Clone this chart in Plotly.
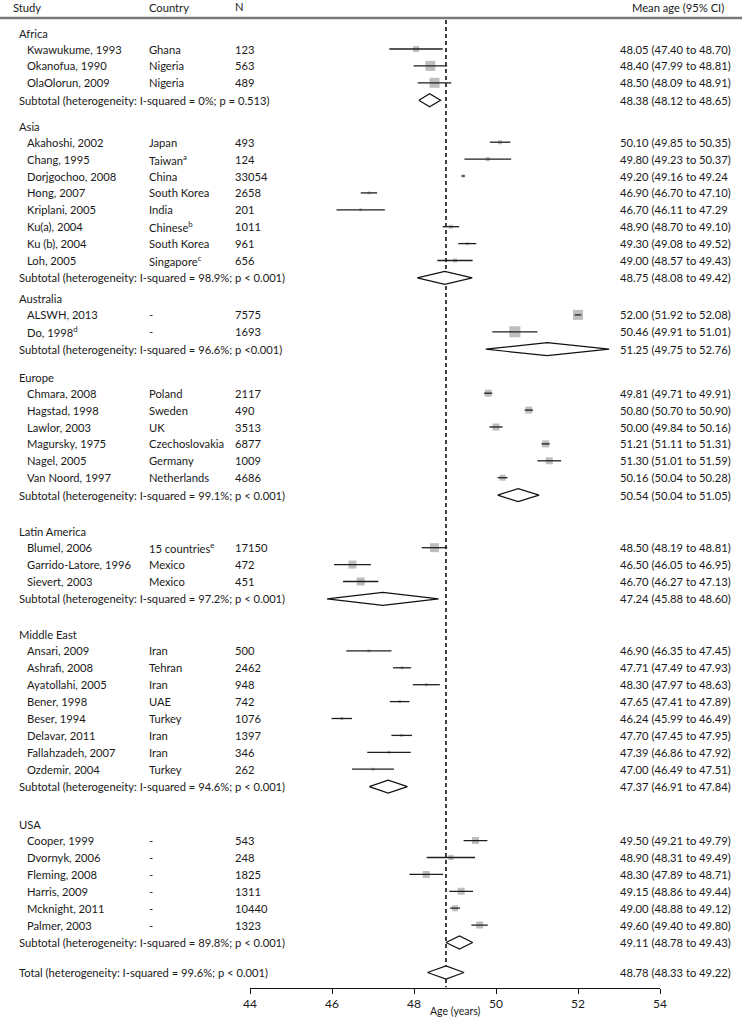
import plotly.graph_objects as go

# ---------------- data ----------------
regions = ["Africa", "Asia", "Australia", "Europe", "Latin America", "Middle East", "USA"]

study = ["Kwawukume, 1993", "Okanofua, 1990", "OlaOlorun, 2009",
         "Akahoshi, 2002", "Chang, 1995", "Dorjgochoo, 2008", "Hong, 2007", "Kriplani, 2005",
         "Ku(a), 2004", "Ku (b), 2004", "Loh, 2005",
         "ALSWH, 2013", "Do, 1998<sup>d</sup>",
         "Chmara, 2008", "Hagstad, 1998", "Lawlor, 2003", "Magursky, 1975", "Nagel, 2005", "Van Noord, 1997",
         "Blumel, 2006", "Garrido-Latore, 1996", "Sievert, 2003",
         "Ansari, 2009", "Ashrafi, 2008", "Ayatollahi, 2005", "Bener, 1998", "Beser, 1994",
         "Delavar, 2011", "Fallahzadeh, 2007", "Ozdemir, 2004",
         "Cooper, 1999", "Dvornyk, 2006", "Fleming, 2008", "Harris, 2009", "Mcknight, 2011", "Palmer, 2003"]
study_region = [0, 0, 0, 1, 1, 1, 1, 1, 1, 1, 1, 2, 2, 3, 3, 3, 3, 3, 3, 4, 4, 4,
                5, 5, 5, 5, 5, 5, 5, 5, 6, 6, 6, 6, 6, 6]
country = ["Ghana", "Nigeria", "Nigeria",
           "Japan", "Taiwan<sup>a</sup>", "China", "South Korea", "India", "Chinese<sup>b</sup>",
           "South Korea", "Singapore<sup>c</sup>",
           "-", "-",
           "Poland", "Sweden", "UK", "Czechoslovakia", "Germany", "Netherlands",
           "15 countries<sup>e</sup>", "Mexico", "Mexico",
           "Iran", "Tehran", "Iran", "UAE", "Turkey", "Iran", "Iran", "Turkey",
           "-", "-", "-", "-", "-", "-"]
n_sample = [123, 563, 489, 493, 124, 33054, 2658, 201, 1011, 961, 656, 7575, 1693,
            2117, 490, 3513, 6877, 1009, 4686, 17150, 472, 451,
            500, 2462, 948, 742, 1076, 1397, 346, 262, 543, 248, 1825, 1311, 10440, 1323]
mean_age = [48.05, 48.40, 48.50, 50.10, 49.80, 49.20, 46.90, 46.70, 48.90, 49.30, 49.00,
            52.00, 50.46, 49.81, 50.80, 50.00, 51.21, 51.30, 50.16, 48.50, 46.50, 46.70,
            46.90, 47.71, 48.30, 47.65, 46.24, 47.70, 47.39, 47.00,
            49.50, 48.90, 48.30, 49.15, 49.00, 49.60]
ci_low = [47.40, 47.99, 48.09, 49.85, 49.23, 49.16, 46.70, 46.11, 48.70, 49.08, 48.57,
          51.92, 49.91, 49.71, 50.70, 49.84, 51.11, 51.01, 50.04, 48.19, 46.05, 46.27,
          46.35, 47.49, 47.97, 47.41, 45.99, 47.45, 46.86, 46.49,
          49.21, 48.31, 47.89, 48.86, 48.88, 49.40]
ci_high = [48.70, 48.81, 48.91, 50.35, 50.37, 49.24, 47.10, 47.29, 49.10, 49.52, 49.43,
           52.08, 51.01, 49.91, 50.90, 50.16, 51.31, 51.59, 50.28, 48.81, 46.95, 47.13,
           47.45, 47.93, 48.63, 47.89, 46.49, 47.95, 47.92, 47.51,
           49.79, 49.49, 48.71, 49.44, 49.12, 49.80]
# study weight shown as box size
weight_box = [6, 10, 10, 4, 4, 3, 3, 3, 4, 3, 4, 10, 11, 7, 7, 7, 7, 7, 6, 9, 8, 8,
              3, 3, 3, 3, 3, 3, 3, 3, 7, 5, 7, 7, 6, 7]
# labels printed without closing parenthesis in the original
unclosed = ["Dorjgochoo, 2008", "Kriplani, 2005"]

sub_het = ["I-squared = 0%; p = 0.513", "I-squared = 98.9%; p < 0.001", "I-squared = 96.6%; p <0.001",
           "I-squared = 99.1%; p < 0.001", "I-squared = 97.2%; p < 0.001",
           "I-squared = 94.6%; p < 0.001", "I-squared = 89.8%; p < 0.001"]
sub_mean = [48.38, 48.75, 51.25, 50.54, 47.24, 47.37, 49.11]
sub_low = [48.12, 48.08, 49.75, 50.04, 45.88, 46.91, 48.78]
sub_high = [48.65, 49.42, 52.76, 51.05, 48.60, 47.84, 49.43]

total_het = "I-squared = 99.6%; p < 0.001"
total_mean, total_low, total_high = 48.78, 48.33, 49.22

x_ticks = [44, 46, 48, 50, 52, 54]
x_title = "Age (years)"

# ---------------- layout constants ----------------
W, H = 742, 1019
FONT = "Lato"
FS = 11.2
FS_CI = 11.2
TXT = "#1a1a1a"
ROW = 16.9
FIRST_OFF = 16
GAPS = [26, 21, 28, 36.6, 36, 38]
GAP_TOTAL = 30
X_HEAD_STUDY, X_SECTION, X_SUB, X_STUDY = 12, 18, 18, 26
X_COUNTRY, X_N, X_CI, X_CI_HEAD = 148, 234, 619, 678
X44_PX, X54_PX = 250, 660
TITLE_Y_PX = 1011

# row positions (pixel-like y coordinate)
sec_y, study_y, sub_y = [], [None] * len(study), []
y = 33
for r in range(len(regions)):
    sec_y.append(y)
    idx = [i for i, s in enumerate(study_region) if s == r]
    for k, i in enumerate(idx):
        study_y[i] = y + FIRST_OFF + k * ROW
    sy = study_y[idx[-1]] + ROW + 0.5
    sub_y.append(sy)
    if r < len(GAPS):
        y = sy + GAPS[r]
total_y = sub_y[-1] + GAP_TOTAL
axis_y = total_y + 15

fig = go.Figure()

# CI boxes (weights)
fig.add_trace(go.Scatter(
    x=mean_age, y=study_y, mode="markers",
    marker=dict(symbol="square", size=weight_box, color="#a3a3a3", line=dict(width=0)),
    hoverinfo="skip", showlegend=False))

# CI lines
lx, ly = [], []
for i in range(len(study)):
    lx += [ci_low[i], ci_high[i], None]
    ly += [study_y[i], study_y[i], None]
fig.add_trace(go.Scatter(x=lx, y=ly, mode="lines", line=dict(color="#1e1e1e", width=1.3),
                         hoverinfo="skip", showlegend=False))

# diamonds
HALF = 6.5
def diamond(m, lo, hi, yc):
    fig.add_trace(go.Scatter(
        x=[lo, m, hi, m, lo], y=[yc, yc - HALF, yc, yc + HALF, yc],
        mode="lines", fill="toself", fillcolor="white",
        line=dict(color="#111111", width=1.2), hoverinfo="skip", showlegend=False))

for r in range(len(regions)):
    diamond(sub_mean[r], sub_low[r], sub_high[r], sub_y[r])
diamond(total_mean, total_low, total_high, total_y)

# reference dashed line at overall mean
fig.add_shape(type="line", xref="x", yref="y", x0=total_mean, x1=total_mean, y0=20, y1=axis_y,
              line=dict(color="#111111", width=1.6, dash="4px,3px"), layer="below")
# header rule
fig.add_shape(type="line", xref="paper", yref="y", x0=0.0, x1=1.0, y0=18, y1=18,
              line=dict(color="#7a7a7a", width=2.5))

anns = []
def txt(xpx, yv, s, anchor="left", size=FS):
    anns.append(dict(x=xpx / W, xref="paper", y=yv, yref="y", text=s, showarrow=False,
                     xanchor=anchor, yanchor="middle", align=anchor,
                     font=dict(family=FONT, size=size, color=TXT), borderpad=0))

def ci_label(m, lo, hi, closed=True):
    return f"{m:.2f} ({lo:.2f} to {hi:.2f}" + (")" if closed else "")

# header
txt(X_HEAD_STUDY, 7, "Study")
txt(X_COUNTRY, 7, "Country")
txt(X_N, 6, "N")
txt(X_CI_HEAD, 7, "Mean age (95% CI)", anchor="center", size=FS_CI)

for r, reg in enumerate(regions):
    txt(X_SECTION, sec_y[r], reg)
    txt(X_SUB, sub_y[r], f"Subtotal (heterogeneity: {sub_het[r]})")
    txt(X_CI, sub_y[r], ci_label(sub_mean[r], sub_low[r], sub_high[r]), size=FS_CI)

for i in range(len(study)):
    txt(X_STUDY, study_y[i], study[i])
    txt(X_COUNTRY, study_y[i], country[i])
    txt(X_N, study_y[i], str(n_sample[i]))
    txt(X_CI, study_y[i], ci_label(mean_age[i], ci_low[i], ci_high[i], study[i] not in unclosed),
        size=FS_CI)

txt(X_SUB, total_y, f"Total (heterogeneity: {total_het})")
txt(X_CI, total_y, ci_label(total_mean, total_low, total_high), size=FS_CI)

# x-axis title placed just under the tick labels (paper coords so it is never hidden)
anns.append(dict(x=(X44_PX + X54_PX) / 2 / W, xref="paper", y=(H - TITLE_Y_PX) / H, yref="paper",
                 text=x_title, showarrow=False, xanchor="center", yanchor="middle",
                 font=dict(family=FONT, size=10.5, color=TXT), borderpad=0))

fig.update_layout(
    width=W, height=H, template="none",
    margin=dict(l=0, r=0, t=0, b=0, pad=0),
    paper_bgcolor="white", plot_bgcolor="white",
    annotations=anns, showlegend=False,
    xaxis=dict(domain=[X44_PX / W, X54_PX / W], range=[x_ticks[0], x_ticks[-1]],
               tickvals=x_ticks, ticktext=[str(t) for t in x_ticks],
               showline=True, linecolor="#111111", linewidth=1.2, mirror=False,
               ticks="outside", ticklen=5, tickwidth=1.2, tickcolor="#111111",
               showgrid=False, zeroline=False, automargin=False,
               tickfont=dict(family=FONT, size=12, color=TXT)),
    yaxis=dict(domain=[(H - axis_y) / H, 1], range=[axis_y, 0], visible=False,
               showgrid=False, zeroline=False, automargin=False),
)

# remove the browser's default page margin so the figure sits at the window origin
fig.write_html("out.html",
               config={"displayModeBar": False},
               post_script="document.body.style.margin='0';document.body.style.padding='0';")
